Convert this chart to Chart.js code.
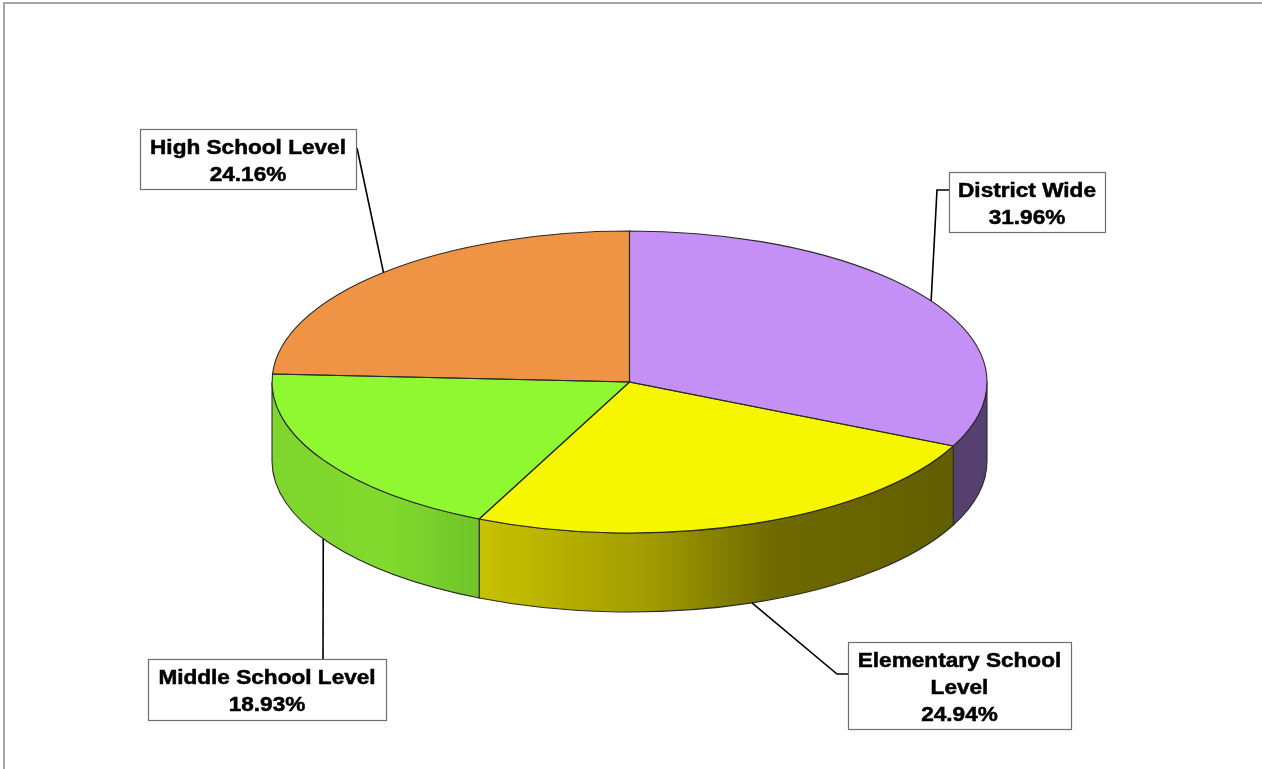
<!DOCTYPE html>
<html>
<head>
<meta charset="utf-8">
<title>Share by Level</title>
<script src="https://cdn.jsdelivr.net/npm/chart.js@4/dist/chart.umd.min.js"></script>
<style>
  html, body { margin: 0; padding: 0; background: #fff; }
  canvas { display: block; }
</style>
</head>
<body>
<canvas id="pie3d" width="1262" height="769"></canvas>
<script>
// categories in clockwise order starting at 12 o'clock
const categories = ['District Wide', ['Elementary School', 'Level'], 'Middle School Level', 'High School Level'];
const shares = [31.96, 24.94, 18.93, 24.16];

const topColors = ['#C490F6', '#F6F600', '#90F830', '#EE9444'];
// side wall shading, left to right along the visible rim
const wallStops = [
  [[0, '#56406F'], [1, '#56406F']],
  [[0, '#C8C200'], [0.35, '#A39D00'], [0.62, '#6E6A00'], [1, '#625E00']],
  [[0, '#7ED62E'], [0.55, '#82DA2E'], [1, '#70C428']],
  [[0, '#B0642C'], [1, '#B0642C']]
];

// projection of the flat pie into a tilted disc
const view = { cy: 382, tilt: 151 / 357.5, depth: 79 };
const edgeColor = '#2a2a2a';

// label boxes and the bend of each leader line
const callouts = [
  { box: [949, 172, 156, 60], path: [[937, 190], [949, 190]] },
  { box: [848, 642, 223, 87], path: [[837, 674], [848, 674]] },
  { box: [148, 659, 238, 61], path: [[323, 659]] },
  { box: [140, 129, 216, 60], path: [[357, 148]] }
];

function geometry(chart) {
  const arcs = chart.getDatasetMeta(0).data;
  const a0 = arcs[0];
  const rx = a0.outerRadius;
  return { arcs, cx: a0.x, y0: a0.y, rx, ry: rx * view.tilt, cy: view.cy };
}

function wallPath(ctx, g, a, b) {
  const d = view.depth;
  ctx.beginPath();
  ctx.ellipse(g.cx, g.cy, g.rx, g.ry, 0, a, b, false);
  ctx.lineTo(g.cx + g.rx * Math.cos(b), g.cy + g.ry * Math.sin(b) + d);
  ctx.ellipse(g.cx, g.cy + d, g.rx, g.ry, 0, b, a, true);
  ctx.closePath();
}

const tiltPlugin = {
  id: 'tilt',
  beforeDraw(chart) {
    const ctx = chart.ctx;
    ctx.save();
    ctx.fillStyle = '#fff';
    ctx.fillRect(0, 0, chart.width, chart.height);
    ctx.strokeStyle = '#8a8a8a';
    ctx.lineWidth = 1.5;
    ctx.beginPath();
    ctx.moveTo(4, chart.height);
    ctx.lineTo(4, 3);
    ctx.lineTo(chart.width, 3);
    ctx.stroke();
    ctx.restore();
  },
  beforeDatasetsDraw(chart) {
    const ctx = chart.ctx;
    const g = geometry(chart);
    ctx.save();
    // front walls: only the part of each slice between 3 and 9 o'clock shows
    g.arcs.forEach((arc, i) => {
      const a = Math.max(arc.startAngle, 0);
      const b = Math.min(arc.endAngle, Math.PI);
      if (b <= a) return;
      const xa = g.cx + g.rx * Math.cos(a);
      const xb = g.cx + g.rx * Math.cos(b);
      const grad = ctx.createLinearGradient(Math.min(xa, xb), 0, Math.max(xa, xb), 0);
      wallStops[i].forEach(([t, c]) => grad.addColorStop(t, c));
      wallPath(ctx, g, a, b);
      ctx.fillStyle = grad;
      ctx.fill();
      ctx.strokeStyle = edgeColor;
      ctx.lineWidth = 1.1;
      ctx.stroke();
    });
    // squash the library's round pie into the top face
    ctx.translate(0, g.cy);
    ctx.scale(1, view.tilt);
    ctx.translate(0, -g.y0);
  },
  afterDatasetsDraw(chart) {
    const ctx = chart.ctx;
    ctx.restore();
    const g = geometry(chart);
    ctx.save();
    ctx.strokeStyle = edgeColor;
    ctx.lineWidth = 1.1;
    g.arcs.forEach(arc => {
      ctx.beginPath();
      ctx.moveTo(g.cx, g.cy);
      ctx.ellipse(g.cx, g.cy, g.rx, g.ry, 0, arc.startAngle, arc.endAngle, false);
      ctx.closePath();
      ctx.stroke();
    });
    ctx.restore();
  },
  afterDraw(chart) {
    const ctx = chart.ctx;
    const g = geometry(chart);
    ctx.save();
    g.arcs.forEach((arc, i) => {
      const c = callouts[i];
      const mid = (arc.startAngle + arc.endAngle) / 2;
      const ax = g.cx + g.rx * Math.cos(mid);
      let ay = g.cy + g.ry * Math.sin(mid);
      if (Math.sin(mid) > 0) ay += view.depth;

      ctx.strokeStyle = '#000';
      ctx.lineWidth = 1.6;
      ctx.beginPath();
      ctx.moveTo(ax, ay);
      c.path.forEach(([px, py]) => ctx.lineTo(px, py));
      ctx.stroke();

      const [bx, by, bw, bh] = c.box;
      ctx.fillStyle = '#fff';
      ctx.fillRect(bx, by, bw, bh);
      ctx.strokeStyle = '#6e6e6e';
      ctx.lineWidth = 1.2;
      ctx.strokeRect(bx + 0.5, by + 0.5, bw, bh);

      const name = categories[i];
      const lines = (Array.isArray(name) ? name : [name]).concat(shares[i].toFixed(2) + '%');
      ctx.fillStyle = '#000';
      ctx.strokeStyle = '#000';
      ctx.lineWidth = 0.5;
      ctx.font = 'bold 20px "Liberation Sans", Arial, sans-serif';
      ctx.textAlign = 'center';
      ctx.textBaseline = 'alphabetic';
      lines.forEach((txt, k) => {
        ctx.save();
        ctx.translate(bx + bw / 2, by + 24.5 + k * 27);
        ctx.scale(1.13, 1);
        ctx.fillText(txt, 0, 0);
        ctx.strokeText(txt, 0, 0);
        ctx.restore();
      });
    });
    ctx.restore();
  }
};

new Chart(document.getElementById('pie3d'), {
  type: 'pie',
  data: {
    labels: categories,
    datasets: [{
      data: shares,
      backgroundColor: topColors,
      borderWidth: 0
    }]
  },
  options: {
    responsive: false,
    animation: false,
    devicePixelRatio: 1,
    layout: { padding: { left: 272, right: 275, top: 27, bottom: 27 } },
    plugins: {
      legend: { display: false },
      tooltip: { enabled: false }
    }
  },
  plugins: [tiltPlugin]
});
</script>
</body>
</html>
